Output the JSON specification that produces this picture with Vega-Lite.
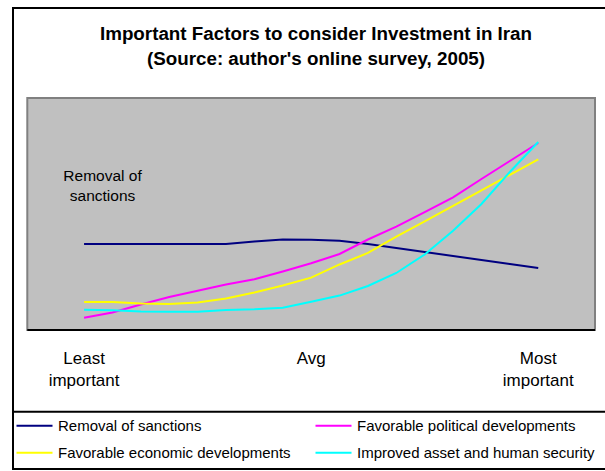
{
  "$schema": "https://vega.github.io/schema/vega-lite/v6.json",
  "width": 594,
  "height": 461,
  "autosize": {"type": "none"},
  "padding": {"left": 13, "top": 8, "right": -2, "bottom": 2},
  "background": "white",
  "config": {
    "view": {"stroke": "black", "strokeWidth": 2, "fill": "white"},
    "font": "Liberation Sans"
  },
  "title": {
    "text": ["Important Factors to consider Investment in Iran", "(Source: author's online survey, 2005)"],
    "font": "Liberation Sans",
    "fontSize": 18.8,
    "fontWeight": "bold",
    "lineHeight": 25,
    "anchor": "middle",
    "dx": 6,
    "offset": -61,
    "color": "black"
  },
  "layer": [
    {
      "data": {"values": [{"k": 1}]},
      "mark": {"type": "rect", "fill": "#C0C0C0", "stroke": "#808080", "strokeWidth": 2},
      "encoding": {
        "x": {"datum": 0, "type": "quantitative", "axis": null, "scale": {"domain": [-0.2519, 10.2114], "nice": false, "zero": false}},
        "x2": {"datum": 10},
        "y": {"datum": 0, "type": "quantitative", "axis": null, "scale": {"domain": [-23.97, 55.52], "nice": false, "zero": false}},
        "y2": {"datum": 40}
      }
    },
    {
      "data": {"values": [{"k": 1}]},
      "mark": {"type": "rule", "color": "black", "strokeWidth": 2},
      "encoding": {
        "x": {"datum": 0, "type": "quantitative", "axis": null},
        "x2": {"datum": 10},
        "y": {"datum": 0, "type": "quantitative", "axis": null}
      }
    },
    {
      "data": {"values": [{"k": 1}]},
      "mark": {"type": "rule", "color": "black", "strokeWidth": 2},
      "encoding": {
        "x": {"datum": -0.2519, "type": "quantitative", "axis": null},
        "x2": {"datum": 10.2114},
        "y": {"datum": -14.09, "type": "quantitative", "axis": null}
      }
    },
    {
      "data": {
        "values": [
          {"x": 1, "series": "Removal of sanctions", "v": 14.83},
          {"x": 1.5, "series": "Removal of sanctions", "v": 14.83},
          {"x": 2, "series": "Removal of sanctions", "v": 14.83},
          {"x": 2.5, "series": "Removal of sanctions", "v": 14.83},
          {"x": 3, "series": "Removal of sanctions", "v": 14.83},
          {"x": 3.5, "series": "Removal of sanctions", "v": 14.83},
          {"x": 4, "series": "Removal of sanctions", "v": 15.26},
          {"x": 4.5, "series": "Removal of sanctions", "v": 15.6},
          {"x": 5, "series": "Removal of sanctions", "v": 15.57},
          {"x": 5.5, "series": "Removal of sanctions", "v": 15.4},
          {"x": 6, "series": "Removal of sanctions", "v": 14.83},
          {"x": 6.5, "series": "Removal of sanctions", "v": 14.14},
          {"x": 7, "series": "Removal of sanctions", "v": 13.45},
          {"x": 7.5, "series": "Removal of sanctions", "v": 12.76},
          {"x": 8, "series": "Removal of sanctions", "v": 12.07},
          {"x": 8.5, "series": "Removal of sanctions", "v": 11.38},
          {"x": 9, "series": "Removal of sanctions", "v": 10.69},
          {"x": 1, "series": "Favorable political developments", "v": 2.12},
          {"x": 1.5, "series": "Favorable political developments", "v": 3.02},
          {"x": 2, "series": "Favorable political developments", "v": 4.4},
          {"x": 2.5, "series": "Favorable political developments", "v": 5.69},
          {"x": 3, "series": "Favorable political developments", "v": 6.78},
          {"x": 3.5, "series": "Favorable political developments", "v": 7.84},
          {"x": 4, "series": "Favorable political developments", "v": 8.76},
          {"x": 4.5, "series": "Favorable political developments", "v": 10.09},
          {"x": 5, "series": "Favorable political developments", "v": 11.5},
          {"x": 5.5, "series": "Favorable political developments", "v": 13.1},
          {"x": 6, "series": "Favorable political developments", "v": 15.6},
          {"x": 6.5, "series": "Favorable political developments", "v": 17.81},
          {"x": 7, "series": "Favorable political developments", "v": 20.34},
          {"x": 7.5, "series": "Favorable political developments", "v": 22.88},
          {"x": 8, "series": "Favorable political developments", "v": 26.03},
          {"x": 8.5, "series": "Favorable political developments", "v": 29.14},
          {"x": 9, "series": "Favorable political developments", "v": 32.24},
          {"x": 1, "series": "Favorable economic developments", "v": 4.83},
          {"x": 1.5, "series": "Favorable economic developments", "v": 4.83},
          {"x": 2, "series": "Favorable economic developments", "v": 4.57},
          {"x": 2.5, "series": "Favorable economic developments", "v": 4.48},
          {"x": 3, "series": "Favorable economic developments", "v": 4.74},
          {"x": 3.5, "series": "Favorable economic developments", "v": 5.43},
          {"x": 4, "series": "Favorable economic developments", "v": 6.47},
          {"x": 4.5, "series": "Favorable economic developments", "v": 7.67},
          {"x": 5, "series": "Favorable economic developments", "v": 9.02},
          {"x": 5.5, "series": "Favorable economic developments", "v": 11.3},
          {"x": 6, "series": "Favorable economic developments", "v": 13.28},
          {"x": 6.5, "series": "Favorable economic developments", "v": 16.09},
          {"x": 7, "series": "Favorable economic developments", "v": 18.71},
          {"x": 7.5, "series": "Favorable economic developments", "v": 21.38},
          {"x": 8, "series": "Favorable economic developments", "v": 24.09},
          {"x": 8.5, "series": "Favorable economic developments", "v": 26.76},
          {"x": 9, "series": "Favorable economic developments", "v": 29.43},
          {"x": 1, "series": "Improved asset and human security", "v": 3.5},
          {"x": 1.5, "series": "Improved asset and human security", "v": 3.4},
          {"x": 2, "series": "Improved asset and human security", "v": 3.19},
          {"x": 2.5, "series": "Improved asset and human security", "v": 3.16},
          {"x": 3, "series": "Improved asset and human security", "v": 3.16},
          {"x": 3.5, "series": "Improved asset and human security", "v": 3.45},
          {"x": 4, "series": "Improved asset and human security", "v": 3.57},
          {"x": 4.5, "series": "Improved asset and human security", "v": 3.84},
          {"x": 5, "series": "Improved asset and human security", "v": 4.86},
          {"x": 5.5, "series": "Improved asset and human security", "v": 5.93},
          {"x": 6, "series": "Improved asset and human security", "v": 7.59},
          {"x": 6.5, "series": "Improved asset and human security", "v": 9.83},
          {"x": 7, "series": "Improved asset and human security", "v": 13.02},
          {"x": 7.5, "series": "Improved asset and human security", "v": 17.12},
          {"x": 8, "series": "Improved asset and human security", "v": 21.72},
          {"x": 8.5, "series": "Improved asset and human security", "v": 27.24},
          {"x": 9, "series": "Improved asset and human security", "v": 32.41}
        ]
      },
      "mark": {"type": "line", "strokeWidth": 2, "interpolate": "linear"},
      "encoding": {
        "x": {
          "field": "x", "type": "quantitative",
          "scale": {"domain": [-0.2519, 10.2114], "nice": false, "zero": false},
          "axis": null
        },
        "y": {
          "field": "v", "type": "quantitative",
          "scale": {"domain": [-23.97, 55.52], "nice": false, "zero": false},
          "axis": null
        },
        "color": {
          "field": "series", "type": "nominal",
          "scale": {
            "domain": ["Removal of sanctions", "Favorable economic developments", "Favorable political developments", "Improved asset and human security"],
            "range": ["#000080", "#FFFF00", "#FF00FF", "#00FFFF"]
          },
          "legend": {
            "orient": "none", "legendX": 2.5, "legendY": 398.7, "columns": 2,
            "title": null, "padding": 0,
            "symbolType": "stroke", "symbolSize": 1296, "symbolStrokeWidth": 2,
            "labelFont": "Liberation Sans", "labelFontSize": 15, "labelColor": "black",
            "labelOffset": 4.5, "labelLimit": 400, "columnPadding": 20, "rowPadding": -9.7
          }
        }
      }
    },
    {
      "data": {
        "values": [
          {"pos": 1, "label": "Least\nimportant"},
          {"pos": 5, "label": "Avg"},
          {"pos": 9, "label": "Most\nimportant"}
        ]
      },
      "mark": {
        "type": "text", "font": "Liberation Sans", "fontSize": 17, "lineHeight": 22,
        "lineBreak": "\n", "align": "center", "baseline": "alphabetic", "color": "black"
      },
      "encoding": {
        "x": {"field": "pos", "type": "quantitative", "axis": null},
        "y": {"datum": -5.86, "type": "quantitative", "axis": null},
        "text": {"field": "label", "type": "nominal"}
      }
    },
    {
      "data": {"values": [{"k": 1}]},
      "mark": {
        "type": "text", "text": ["Removal of", "sanctions"], "font": "Liberation Sans",
        "fontSize": 15.5, "lineHeight": 20.5, "align": "center", "baseline": "alphabetic", "color": "black"
      },
      "encoding": {
        "x": {"datum": 1.325, "type": "quantitative", "axis": null},
        "y": {"datum": 25.74, "type": "quantitative", "axis": null}
      }
    }
  ]
}
